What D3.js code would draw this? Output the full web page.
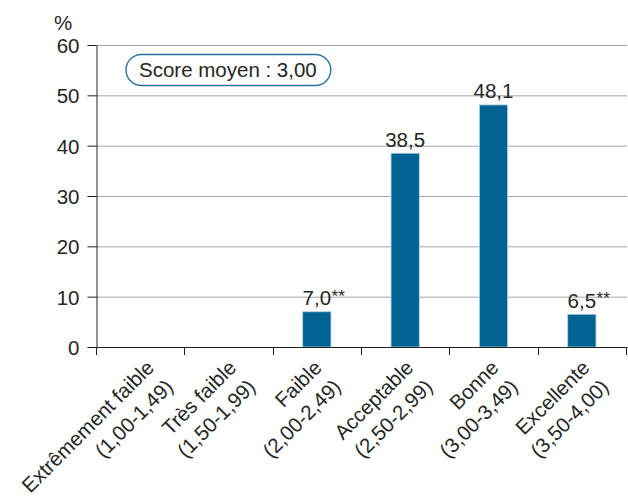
<!DOCTYPE html>
<html><head><meta charset="utf-8">
<script src="https://cdn.jsdelivr.net/npm/d3@7"></script>
<style>
body{margin:0;background:#fff}
text{font-family:"Liberation Sans",Arial,Helvetica,sans-serif;fill:#262626}
</style>
</head><body><svg id="c" width="628" height="500"></svg>
<script>
const categories = ["Extrêmement faible","Très faible","Faible","Acceptable","Bonne","Excellente"];
const ranges = ["(1,00-1,49)","(1,50-1,99)","(2,00-2,49)","(2,50-2,99)","(3,00-3,49)","(3,50-4,00)"];
const values = [null,null,7.0,38.5,48.1,6.5];
const valueLabels = [null,null,"7,0","38,5","48,1","6,5"];
const flags = ["","","**","","","**"];
const yTicks = [0,10,20,30,40,50,60];
const yUnit = "%";
const scoreLabel = "Score moyen : 3,00";

const svg = d3.select("#c");
const L = 96, R = 626, T = 45, B = 347;
const FS = 20.5;
const y = d3.scaleLinear().domain([0,60]).range([B,T]);
const xb = d3.scaleBand().domain(categories).range([L,R]).padding(0);
const xBar = d3.scaleBand().domain(categories).range([L,R]).paddingInner(0.68).paddingOuter(0.34);

// gridlines
svg.append("g").selectAll("line").data(yTicks.filter(t=>t>0)).join("line")
  .attr("x1",L).attr("x2",R+1).attr("y1",d=>y(d)+0.5).attr("y2",d=>y(d)+0.5)
  .attr("stroke","#a6a6a6").attr("stroke-width",1);

// bars
const data = categories.map((c,i)=>({c, v:values[i], lab:valueLabels[i], f:flags[i]})).filter(d=>d.v!=null);
svg.append("g").selectAll("rect").data(data).join("rect")
  .attr("x",d=>xBar(d.c)).attr("width",xBar.bandwidth())
  .attr("y",d=>y(d.v)).attr("height",d=>B-y(d.v))
  .attr("fill","#006394").attr("stroke","#b9d2e3").attr("stroke-width",0.8);

// value labels
const vl = svg.append("g");
data.forEach(d=>{
  const cx = xBar(d.c)+xBar.bandwidth()/2;
  const t = vl.append("text").attr("x",cx).attr("y",y(d.v)-6.5)
    .attr("text-anchor","middle").attr("font-size",FS).text(d.lab);
  if(d.f){
    const w = t.node().getComputedTextLength();
    vl.append("text").attr("x",cx+w/2+0.5).attr("y",y(d.v)-10)
      .attr("font-size",17).text(d.f);
  }
});

// y axis
const ya = svg.append("g").attr("transform",`translate(${L+0.5},0)`)
  .call(d3.axisLeft(y).tickValues(yTicks).tickSize(9).tickSizeOuter(0).tickPadding(8).tickFormat(d3.format("d")));
ya.select(".domain").attr("stroke","#222");
ya.selectAll(".tick line").attr("stroke","#222");
ya.selectAll(".tick text").attr("font-size",FS).attr("font-family",null).attr("fill","#262626").attr("dy","0.36em");

// x axis
svg.append("line").attr("x1",L).attr("x2",R+1.5).attr("y1",B+0.5).attr("y2",B+0.5).attr("stroke","#222");
const bounds = categories.map(c=>xb(c)).concat([xb.range()[1]]);
svg.append("g").selectAll("line").data(bounds).join("line")
  .attr("x1",d=>Math.round(d)+0.5).attr("x2",d=>Math.round(d)+0.5)
  .attr("y1",B).attr("y2",B+8).attr("stroke","#222");

// x labels
categories.forEach((c,i)=>{
  const cx = xb(c)+xb.bandwidth()/2;
  const g = svg.append("g");
  const t = g.append("text").attr("text-anchor","end").attr("font-size",FS);
  t.append("tspan").attr("x",0).attr("y",0).text(c);
  const len1 = t.select("tspan").node().getComputedTextLength();
  t.append("tspan").attr("x",0).attr("dy",27).text(ranges[i]);
  const off = 2 + 0.074*len1;
  g.attr("transform",`translate(${cx+off},369) rotate(-45)`);
});

// unit
svg.append("text").attr("x",54).attr("y",30).attr("font-size",FS).text(yUnit);

// score box
const sb = svg.append("g");
const st = sb.append("text").attr("x",139).attr("y",77).attr("font-size",FS).text(scoreLabel);
const sw = st.node().getComputedTextLength();
sb.insert("rect","text").attr("x",126).attr("y",54.5).attr("width",sw+27).attr("height",31)
  .attr("rx",15.5).attr("fill","#fff").attr("stroke","#2a72a0").attr("stroke-width",1.4);
</script></body></html>
